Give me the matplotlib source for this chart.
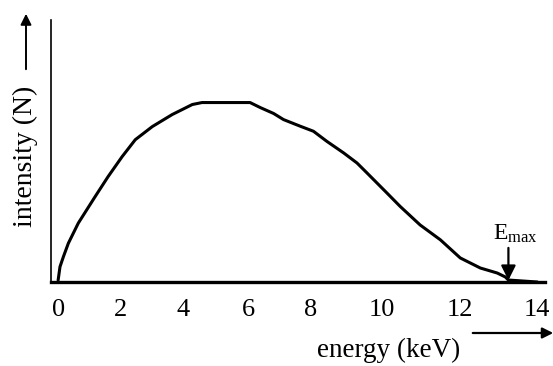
import numpy as np
import matplotlib
matplotlib.use("Agg")
import matplotlib.pyplot as plt

# ---- data ----
energy = [0.0, 0.06, 0.17, 0.33, 0.65, 1.19, 1.61, 2.06, 2.48, 3.02, 3.65,
          4.28, 4.58, 5.75, 6.06, 6.39, 6.82, 7.14, 7.68, 8.09, 8.46, 8.93,
          9.30, 9.58, 10.12, 10.46, 10.97, 11.49, 12.0, 12.52, 12.96, 13.17,
          13.25, 14.0]
intensity = [1.0, 8.5, 14.1, 21.6, 32.8, 47.5, 58.7, 69.8, 79.3, 86.6, 93.3,
             98.9, 100.0, 100.0, 100.0, 97.2, 93.9, 90.5, 86.8, 84.0, 78.4,
             71.9, 66.3, 60.7, 49.6, 42.1, 31.8, 23.5, 13.4, 7.8, 5.0, 2.8,
             1.1, 0.0]
tick_values = [0, 2, 4, 6, 8, 10, 12, 14]
tick_labels = ["0", "2", "4", "6", "8", "10", "12", "14"]
e_max = 13.25

# the scanned energy axis is not uniform: anchor of each tick on the page
tick_anchor = [58, 120, 183, 248, 310, 382, 460, 537]


def _interp_ext(x, xp, fp):
    x = np.asarray(x, dtype=float)
    xp = np.asarray(xp, dtype=float)
    fp = np.asarray(fp, dtype=float)
    y = np.interp(x, xp, fp)
    lo_slope = (fp[1] - fp[0]) / (xp[1] - xp[0])
    hi_slope = (fp[-1] - fp[-2]) / (xp[-1] - xp[-2])
    y = np.where(x < xp[0], fp[0] + (x - xp[0]) * lo_slope, y)
    y = np.where(x > xp[-1], fp[-1] + (x - xp[-1]) * hi_slope, y)
    return y


def fwd(x):
    return _interp_ext(x, tick_values, tick_anchor)


def inv(p):
    return _interp_ext(p, tick_anchor, tick_values)


plt.rcParams["font.family"] = ["Liberation Serif", "DejaVu Serif"]
plt.rcParams["mathtext.fontset"] = "custom"
plt.rcParams["mathtext.rm"] = "Liberation Serif"

W, H = 553, 366
fig = plt.figure(figsize=(W / 100, H / 100), dpi=100)
ax = fig.add_axes([51 / W, 1 - 282 / H, (545 - 51) / W, (282 - 20) / H])

ax.set_xscale("function", functions=(fwd, inv))
ax.set_xlim(-0.23, 14.2)
ax.set_ylim(0, 146)

ax.plot(energy, intensity, color="black", lw=2.2, solid_capstyle="round",
        solid_joinstyle="round", clip_on=False)

for s in ["top", "right"]:
    ax.spines[s].set_visible(False)
ax.spines["left"].set_linewidth(1.2)
ax.spines["bottom"].set_linewidth(2.4)

ax.set_xticks(tick_values)
ax.set_xticklabels(tick_labels, fontsize=19)
ax.set_yticks([])
ax.tick_params(axis="x", length=0, pad=12)

# E_max marker
ax.annotate("", xy=(e_max, 1.0), xytext=(e_max, 19),
            arrowprops=dict(arrowstyle="-|>", mutation_scale=22, lw=1.6,
                            color="black", shrinkA=0, shrinkB=0))
ax.annotate(r"$\mathrm{E_{max}}$", xy=(e_max, 20.5), xytext=(5, 0),
            textcoords="offset points", fontsize=17, ha="center",
            va="bottom")

# axis labels with arrows
fig.text(389 / W, 1 - 350 / H, "energy (keV)", fontsize=19.5, ha="center",
         va="center")
fig.text(25 / W, 1 - 156 / H, "intensity (N)", fontsize=20, ha="center",
         va="center", rotation=90)

fig.add_artist(matplotlib.patches.FancyArrowPatch(
    (470 / W, 1 - 333 / H), (556 / W, 1 - 333 / H),
    transform=fig.transFigure, arrowstyle="-|>", mutation_scale=16,
    lw=1.6, color="black"))
fig.add_artist(matplotlib.patches.FancyArrowPatch(
    (26 / W, 1 - 72 / H), (26 / W, 1 - 11 / H),
    transform=fig.transFigure, arrowstyle="-|>", mutation_scale=16,
    lw=1.4, color="black"))

fig.savefig("out.png", dpi=100, facecolor="white")
